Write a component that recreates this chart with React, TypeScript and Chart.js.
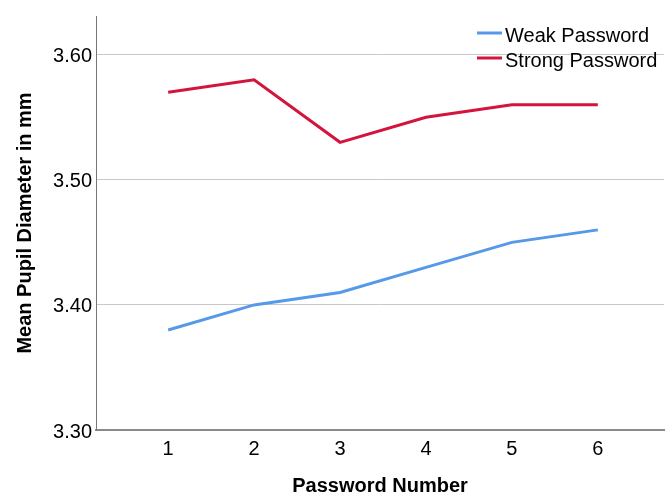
import React, { useEffect, useRef } from "react";
import { Chart, registerables } from "chart.js";

Chart.register(...registerables);

const passwordNumbers = [1, 2, 3, 4, 5, 6];
const weakPassword = [3.38, 3.40, 3.41, 3.43, 3.45, 3.46];
const strongPassword = [3.57, 3.58, 3.53, 3.55, 3.56, 3.56];
const yTickValues = [3.3, 3.4, 3.5, 3.6];
const seriesLabels = ["Weak Password", "Strong Password"];
const seriesColors = ["#5599E8", "#D4143C"];

const FONT = "'Liberation Sans', Arial, sans-serif";

const legendPlugin = {
  id: "customLegend",
  afterDraw(chart: any) {
    const ctx = chart.ctx;
    ctx.save();
    const x0 = 477;
    const ys = [33, 58];
    seriesLabels.forEach((label, i) => {
      ctx.strokeStyle = seriesColors[i];
      ctx.lineWidth = 3;
      ctx.beginPath();
      ctx.moveTo(x0, ys[i]);
      ctx.lineTo(x0 + 25, ys[i]);
      ctx.stroke();
      ctx.fillStyle = "#000";
      ctx.font = `20px ${FONT}`;
      ctx.textBaseline = "middle";
      ctx.textAlign = "left";
      ctx.fillText(label, x0 + 28, ys[i] + 3);
    });
    ctx.restore();
  },
};

export default function App() {
  const ref = useRef<HTMLCanvasElement>(null);
  useEffect(() => {
    if (!ref.current) return;
    const chart = new Chart(ref.current, {
      type: "line",
      data: {
        datasets: [
          {
            label: seriesLabels[0],
            data: passwordNumbers.map((x, i) => ({ x, y: weakPassword[i] })),
            borderColor: seriesColors[0],
            borderWidth: 3,
            pointRadius: 0,
            tension: 0,
          },
          {
            label: seriesLabels[1],
            data: passwordNumbers.map((x, i) => ({ x, y: strongPassword[i] })),
            borderColor: seriesColors[1],
            borderWidth: 3,
            pointRadius: 0,
            tension: 0,
          },
        ],
      },
      options: {
        responsive: false,
        animation: false,
        layout: { padding: { top: 14, right: 5, left: 0, bottom: 0 } },
        plugins: { legend: { display: false }, tooltip: { enabled: false } },
        scales: {
          x: {
            type: "linear",
            min: 0.16,
            max: 6.77,
            afterBuildTicks: (axis: any) => {
              axis.ticks = passwordNumbers.map((v) => ({ value: v }));
            },
            afterFit: (axis: any) => {
              axis.height = 68;
            },
            ticks: {
              color: "#000",
              font: { family: FONT, size: 20 },
              padding: 7,
              maxRotation: 0,
              callback: (v: any) => String(v),
            },
            grid: { color: "rgba(0,0,0,0)", drawTicks: false },
            border: { color: "#8a8a8a", width: 2 },
            title: {
              display: true,
              text: "Password Number",
              color: "#000",
              font: { family: FONT, size: 20, weight: "bold" },
              padding: { top: 0, bottom: 0 },
            },
          },
          y: {
            min: 3.3,
            max: 3.631,
            afterBuildTicks: (axis: any) => {
              axis.ticks = yTickValues.map((v) => ({ value: v }));
            },
            afterFit: (axis: any) => {
              axis.width = 96;
            },
            ticks: {
              color: "#000",
              font: { family: FONT, size: 20 },
              padding: 4,
              labelOffset: 2,
              callback: (v: any) => Number(v).toFixed(2),
            },
            grid: { color: "#c8c8c8", lineWidth: 1, drawTicks: false },
            border: { color: "#777", width: 1 },
            title: {
              display: true,
              text: "Mean Pupil Diameter in mm",
              color: "#000",
              font: { family: FONT, size: 20, weight: "bold" },
              padding: { top: 13, bottom: 0 },
            },
          },
        },
      },
      plugins: [legendPlugin],
    });
    return () => chart.destroy();
  }, []);
  return (
    <div style={{ position: "fixed", left: 0, top: 0, width: 669, height: 498, background: "#fff" }}>
      <canvas ref={ref} width={669} height={498} />
    </div>
  );
}
